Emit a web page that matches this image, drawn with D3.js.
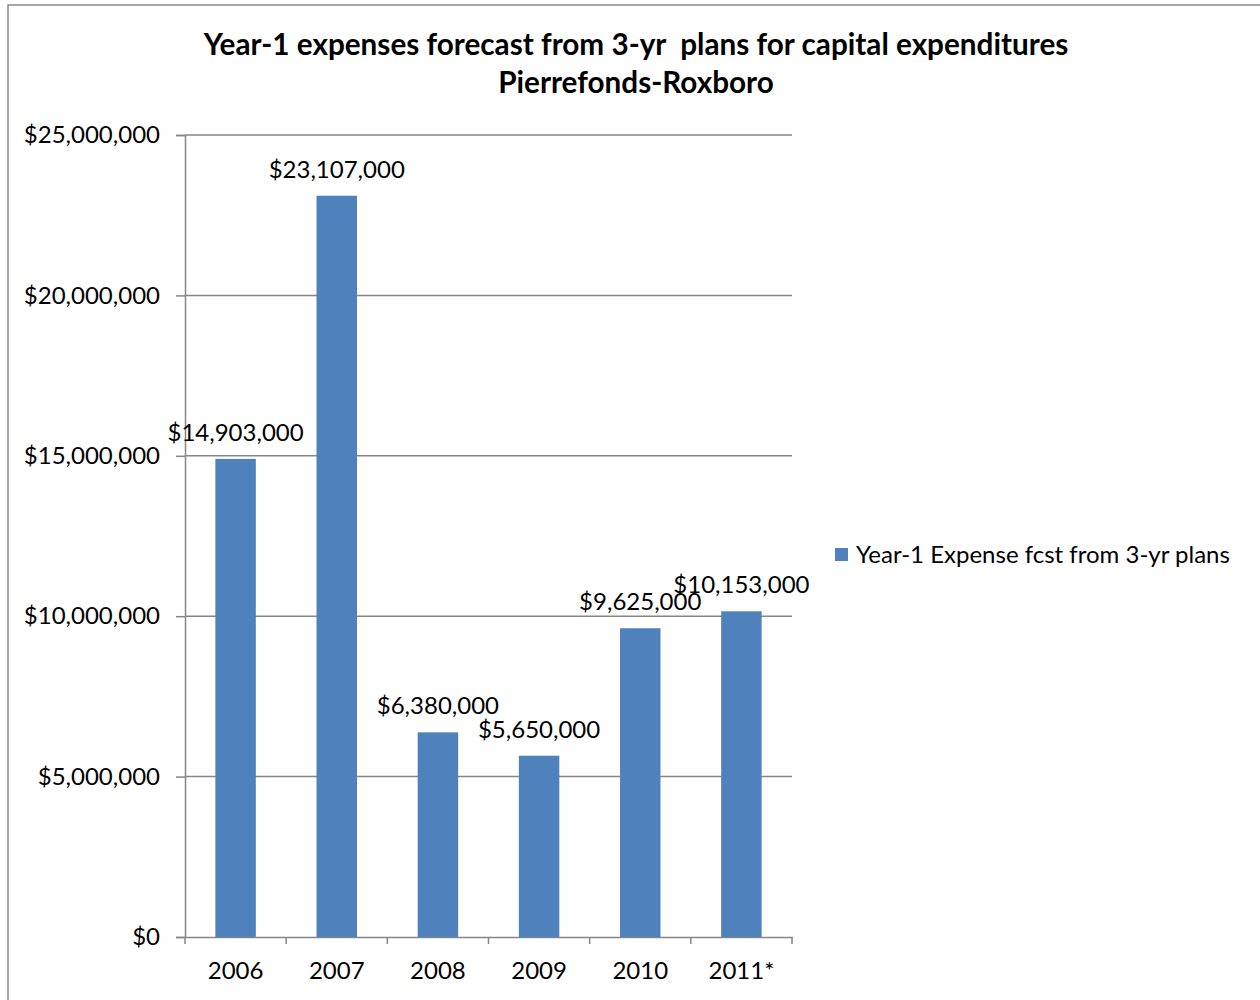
<!DOCTYPE html>
<html>
<head>
<meta charset="utf-8">
<script src="https://cdn.jsdelivr.net/npm/d3@7"></script>
<style>
  html, body { margin: 0; padding: 0; background: #fff; }
  svg text { font-family: Lato, "Open Sans", sans-serif; fill: #000; }
</style>
</head>
<body>
<svg id="chart" width="1260" height="1000"></svg>
<script>
// Year-1 expense forecasts, Pierrefonds-Roxboro
const years = ["2006", "2007", "2008", "2009", "2010", "2011*"];
const expenses = [14903000, 23107000, 6380000, 5650000, 9625000, 10153000];
const yTicks = [0, 5000000, 10000000, 15000000, 20000000, 25000000];
const titleLines = ["Year-1 expenses forecast from 3-yr  plans for capital expenditures", "Pierrefonds-Roxboro"];
const seriesName = "Year-1 Expense fcst from 3-yr plans";

const svg = d3.select("#chart");
const barColor = "#4F81BD";
const lineColor = "#868686";
const fontSize = 24;

// outer frame
svg.append("rect")
  .attr("x", 8).attr("y", 5).attr("width", 1262).attr("height", 1010)
  .attr("fill", "none").attr("stroke", "#8a8a8a").attr("stroke-width", 1.5);

const plot = { left: 185, right: 792, top: 135, bottom: 937 };

const x = d3.scaleBand().domain(years).range([plot.left, plot.right]).paddingInner(0.6).paddingOuter(0.3);
const y = d3.scaleLinear().domain([0, 25000000]).range([plot.bottom, plot.top]);
const money = d => "$" + d3.format(",")(d);

// gridlines
svg.append("g").selectAll("line").data(yTicks.filter(d => d > 0)).join("line")
  .attr("x1", plot.left).attr("x2", plot.right)
  .attr("y1", d => y(d)).attr("y2", d => y(d))
  .attr("stroke", lineColor).attr("stroke-width", 1.5);

// y axis
const yAxis = svg.append("g").attr("transform", `translate(${plot.left},0)`)
  .call(d3.axisLeft(y).tickValues(yTicks).tickFormat(money).tickSize(9).tickPadding(16));
yAxis.select(".domain").attr("stroke", lineColor).attr("stroke-width", 1.5);
yAxis.selectAll(".tick line").attr("stroke", lineColor).attr("stroke-width", 1.5);
yAxis.selectAll(".tick text").attr("font-size", fontSize).attr("font-family", "Lato").attr("fill", "#000");

// x axis with ticks between categories
const xAxis = svg.append("g").attr("transform", `translate(0,${plot.bottom})`)
  .call(d3.axisBottom(x).tickSize(0).tickPadding(25));
xAxis.select(".domain").attr("stroke", lineColor).attr("stroke-width", 1.5);
xAxis.selectAll(".tick text").attr("font-size", fontSize).attr("font-family", "Lato").attr("fill", "#000");
const step = (plot.right - plot.left) / years.length;
xAxis.selectAll(".sep").data(d3.range(years.length + 1)).join("line")
  .attr("class", "sep")
  .attr("x1", i => plot.left + i * step).attr("x2", i => plot.left + i * step)
  .attr("y1", 0).attr("y2", 7)
  .attr("stroke", lineColor).attr("stroke-width", 1.5);

// bars
svg.append("g").selectAll("rect").data(years).join("rect")
  .attr("x", d => x(d))
  .attr("width", x.bandwidth())
  .attr("y", (d, i) => y(expenses[i]))
  .attr("height", (d, i) => y(0) - y(expenses[i]))
  .attr("fill", barColor);

// value labels
svg.append("g").selectAll("text").data(years).join("text")
  .attr("x", d => x(d) + x.bandwidth() / 2)
  .attr("y", (d, i) => y(expenses[i]) - 18)
  .attr("text-anchor", "middle")
  .attr("font-size", fontSize)
  .text((d, i) => money(expenses[i]));

// title
svg.append("g").selectAll("text").data(titleLines).join("text")
  .attr("x", 636).attr("y", (d, i) => 55 + i * 38)
  .attr("text-anchor", "middle")
  .attr("font-size", 29.7).attr("font-weight", "bold")
  .style("white-space", "pre")
  .attr("xml:space", "preserve")
  .text(d => d);

// legend
const lg = svg.append("g").attr("transform", "translate(835,548)");
lg.append("rect").attr("width", 13).attr("height", 13).attr("fill", barColor);
lg.append("text").attr("x", 21).attr("y", 15).attr("font-size", fontSize).text(seriesName);
</script>
</body>
</html>
